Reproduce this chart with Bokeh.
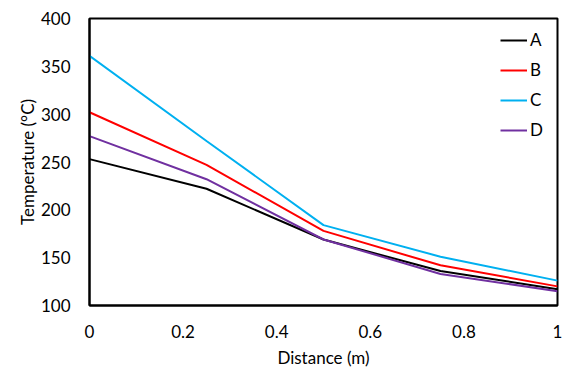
from bokeh.plotting import figure
from bokeh.models import Range1d, FixedTicker, CustomJSTickFormatter, Legend, LegendItem
from bokeh.embed import file_html
from bokeh.resources import INLINE

distance = [0, 0.25, 0.5, 0.75, 1.0]
series_names = ["A", "B", "C", "D"]
temp_A = [253, 222, 169, 136, 117]
temp_B = [302, 247, 178, 142, 120]
temp_C = [361, 272, 184, 151, 126]
temp_D = [277, 232, 169, 133, 115]
colors = ["#000000", "#FF0000", "#00B0F0", "#7030A0"]
x_ticks = [0, 0.2, 0.4, 0.6, 0.8, 1.0]
y_ticks = [100, 150, 200, 250, 300, 350, 400]

FONT = "Lato"

p = figure(width=568, height=376, output_backend="svg", toolbar_location=None,
           x_range=Range1d(0, 1), y_range=Range1d(100, 400),
           min_border_left=89, min_border_right=11, min_border_top=18, min_border_bottom=71)
p.background_fill_color = "white"
p.border_fill_color = "white"
p.outline_line_color = "#000000"
p.outline_line_width = 2
p.grid.visible = False

renderers = []
for name, vals, c in zip(series_names, [temp_A, temp_B, temp_C, temp_D], colors):
    r = p.line(distance, vals, line_color=c, line_width=2)
    renderers.append((name, r))

for ax in (p.xaxis[0], p.yaxis[0]):
    ax.axis_line_color = "#000000"
    ax.axis_line_width = 2
    ax.major_tick_line_color = None
    ax.minor_tick_line_color = None
    ax.major_label_text_font = FONT
    ax.major_label_text_font_size = "17px"
    ax.major_label_text_color = "#000000"
    ax.axis_label_text_font = FONT
    ax.axis_label_text_font_size = "17px"
    ax.axis_label_text_font_style = "normal"
    ax.axis_label_text_color = "#000000"

p.xaxis.ticker = FixedTicker(ticks=x_ticks)
p.xaxis.formatter = CustomJSTickFormatter(code="return String(Math.round(tick*10)/10)")
p.yaxis.ticker = FixedTicker(ticks=y_ticks)
p.xaxis.axis_label = "Distance (m)"
p.yaxis.axis_label = "Temperature (°C)"
p.xaxis.major_label_standoff = 13
p.yaxis.major_label_standoff = 13
p.xaxis.axis_label_standoff = 6
p.yaxis.axis_label_standoff = 0

legend = Legend(items=[LegendItem(label=n, renderers=[r]) for n, r in renderers],
                location=(411, 165))
legend.border_line_color = None
legend.background_fill_alpha = 0
legend.padding = 0
legend.margin = 0
legend.spacing = 9
legend.glyph_width = 27
legend.glyph_height = 20
legend.label_height = 20
legend.label_standoff = 3
legend.label_text_font = FONT
legend.label_text_font_size = "17px"
legend.label_text_color = "#000000"
p.add_layout(legend, "center")

open("out.html", "w").write(file_html(p, INLINE))
